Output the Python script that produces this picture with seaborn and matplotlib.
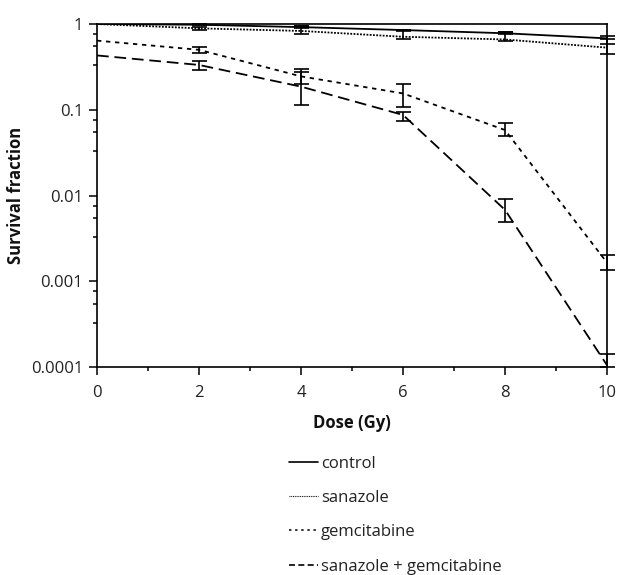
import numpy as np
import pandas as pd
import seaborn as sns
import matplotlib.pyplot as plt
from matplotlib.lines import Line2D
from matplotlib.ticker import FixedLocator, FixedFormatter, NullFormatter

# ---- data ----
dose = [0, 2, 4, 6, 8, 10]
groups = ["control", "sanazole", "gemcitabine", "sanazole + gemcitabine"]

control = [1.0, 0.98, 0.92, 0.85, 0.78, 0.68]
control_lo = [np.nan, 0.97, 0.90, 0.83, 0.76, 0.58]
control_hi = [np.nan, 0.99, 0.94, 0.86, 0.80, 0.73]

sanazole = [1.0, 0.89, 0.83, 0.71, 0.66, 0.53]
sanazole_lo = [np.nan, 0.86, 0.76, 0.67, 0.64, 0.45]
sanazole_hi = [np.nan, 0.93, 0.95, 0.85, 0.81, 0.67]

gemcitabine = [0.64, 0.50, 0.245, 0.155, 0.058, 0.00165]
gemcitabine_lo = [np.nan, 0.46, 0.20, 0.108, 0.050, 0.00134]
gemcitabine_hi = [np.nan, 0.54, 0.30, 0.20, 0.070, 0.0020]

combo = [0.43, 0.333, 0.186, 0.087, 0.0068, 0.000105]
combo_lo = [np.nan, 0.29, 0.114, 0.074, 0.0049, 0.0001]
combo_hi = [np.nan, 0.37, 0.278, 0.095, 0.0091, 0.000141]

ytick_values = [0.0001, 0.001, 0.01, 0.1, 1]
ytick_labels = ["0.0001", "0.001", "0.01", "0.1", "1"]
xtick_values = [0, 2, 4, 6, 8, 10]

series = {
    "control": (control, control_lo, control_hi),
    "sanazole": (sanazole, sanazole_lo, sanazole_hi),
    "gemcitabine": (gemcitabine, gemcitabine_lo, gemcitabine_hi),
    "sanazole + gemcitabine": (combo, combo_lo, combo_hi),
}

rows = []
for g, (vals, lo, hi) in series.items():
    for d, v, l, h in zip(dose, vals, lo, hi):
        rows.append({"dose": d, "value": v, "lo": l, "hi": h, "group": g})
df = pd.DataFrame(rows)

# ---- style ----
sns.set_theme(style="ticks")
plt.rcParams['font.family'] = ['Open Sans', 'DejaVu Sans']
plt.rcParams['axes.edgecolor'] = 'black'
plt.rcParams['axes.linewidth'] = 1.2

fig = plt.figure(figsize=(6.19, 5.75), dpi=100)
ax = fig.add_axes([97 / 619, 1 - 367 / 575, 510 / 619, 343 / 575])

lw = 1.3
dashes = {
    "control": "",
    "sanazole": (1.0, 0.8),
    "gemcitabine": (2.4, 2.6),
    "sanazole + gemcitabine": (6.5, 3.2),
}
sns.lineplot(data=df, x="dose", y="value", hue="group", style="group",
             hue_order=groups, style_order=groups,
             palette=["black"] * 4, dashes=dashes, linewidth=lw,
             errorbar=None, legend=False, ax=ax, sort=False)

for g in groups:
    sub = df[(df.group == g) & df.lo.notna()]
    eb = ax.errorbar(sub.dose, sub.value,
                     yerr=[sub.value - sub.lo, sub.hi - sub.value],
                     fmt="none", ecolor="black", elinewidth=1.2,
                     capsize=5.4, capthick=1.2)
    for art in list(eb.lines[1]) + list(eb.lines[2]):
        art.set_clip_on(False)

ax.set_yscale("log")
ax.set_ylim(1e-4, 1)
ax.set_xlim(0, 10)

ax.yaxis.set_major_locator(FixedLocator(ytick_values))
ax.yaxis.set_major_formatter(FixedFormatter(ytick_labels))
minor = [d * f for d in [1e-4, 1e-3, 1e-2, 1e-1] for f in (3.3, 5.5, 7.6)]
ax.yaxis.set_minor_locator(FixedLocator(minor))
ax.yaxis.set_minor_formatter(NullFormatter())

ax.xaxis.set_major_locator(FixedLocator(xtick_values))
ax.xaxis.set_minor_locator(FixedLocator([1, 3, 5, 7, 9]))

ax.tick_params(axis="both", which="major", length=6, width=1.1,
               direction="out", colors="black", labelsize=12, labelcolor="#222222")
ax.tick_params(axis="y", which="major", pad=4)
ax.tick_params(axis="x", which="major", pad=7)
ax.tick_params(axis="both", which="minor", length=3.2, width=1.1,
               direction="out", colors="black")

for s in ax.spines.values():
    s.set_visible(True)
    s.set_color("black")

ax.set_xlabel("Dose (Gy)", fontsize=12, fontweight="bold", labelpad=9, color="#111111")
ax.set_ylabel("Survival fraction", fontsize=12, fontweight="bold", labelpad=4, color="#111111")

# legend proxies mimicking the reference's key swatches
proxy = [
    Line2D([], [], color="black", lw=1.2, linestyle="-"),
    Line2D([], [], color="black", lw=0.8, linestyle=(0, (0.8, 0.8))),
    Line2D([], [], color="black", lw=1.1, linestyle=(0, (1.6, 2.4))),
    Line2D([], [], color="black", lw=1.2, linestyle=(0, (3.6, 2.0))),
]
leg = fig.legend(proxy, groups, loc="upper left",
                 bbox_to_anchor=(282 / 619, 1 - 449 / 575),
                 frameon=False, fontsize=12, handlelength=1.75,
                 handletextpad=0.2, labelspacing=1.1, borderaxespad=0)
for t in leg.get_texts():
    t.set_color("#222222")

fig.savefig("out.png", dpi=100)
